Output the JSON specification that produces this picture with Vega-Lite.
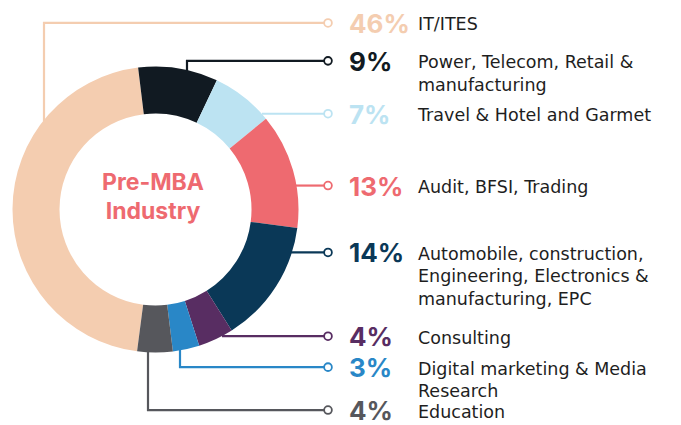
{
  "$schema": "https://vega.github.io/schema/vega-lite/v6.json",
  "width": 681,
  "height": 425,
  "padding": 0,
  "autosize": {"type": "fit", "contains": "padding"},
  "background": "white",
  "config": {"view": {"stroke": null}, "font": "Inter"},
  "datasets": {
    "shares": [
      {"key": "IT", "pct": 46, "ord": 8, "label": "IT/ITES"},
      {"key": "Power", "pct": 9, "ord": 1, "label": "Power, Telecom, Retail &\nmanufacturing"},
      {"key": "Travel", "pct": 7, "ord": 2, "label": "Travel & Hotel and Garmet"},
      {"key": "Audit", "pct": 13, "ord": 3, "label": "Audit, BFSI, Trading"},
      {"key": "Auto", "pct": 14, "ord": 4, "label": "Automobile, construction,\nEngineering, Electronics &\nmanufacturing, EPC"},
      {"key": "Consulting", "pct": 4, "ord": 5, "label": "Consulting"},
      {"key": "Digital", "pct": 3, "ord": 6, "label": "Digital marketing & Media\nResearch"},
      {"key": "Education", "pct": 4, "ord": 7, "label": "Education"}
    ],
    "labelSlots": [
      {"key": "IT", "ly": 23},
      {"key": "Power", "ly": 61},
      {"key": "Travel", "ly": 114},
      {"key": "Audit", "ly": 186},
      {"key": "Auto", "ly": 253},
      {"key": "Consulting", "ly": 337},
      {"key": "Digital", "ly": 368},
      {"key": "Education", "ly": 411}
    ],
    "leaders": [
      {"key": "IT", "step": 0, "lx": 44, "ly": 122},
      {"key": "IT", "step": 1, "lx": 44, "ly": 23},
      {"key": "IT", "step": 2, "lx": 328, "ly": 23},
      {"key": "Power", "step": 0, "lx": 187, "ly": 84},
      {"key": "Power", "step": 1, "lx": 187, "ly": 61},
      {"key": "Power", "step": 2, "lx": 328, "ly": 61},
      {"key": "Travel", "step": 0, "lx": 262, "ly": 114},
      {"key": "Travel", "step": 1, "lx": 328, "ly": 114},
      {"key": "Audit", "step": 0, "lx": 296, "ly": 186},
      {"key": "Audit", "step": 1, "lx": 328, "ly": 186},
      {"key": "Auto", "step": 0, "lx": 291, "ly": 253},
      {"key": "Auto", "step": 1, "lx": 328, "ly": 253},
      {"key": "Consulting", "step": 0, "lx": 222, "ly": 337},
      {"key": "Consulting", "step": 1, "lx": 328, "ly": 337},
      {"key": "Digital", "step": 0, "lx": 180, "ly": 350},
      {"key": "Digital", "step": 1, "lx": 180, "ly": 368},
      {"key": "Digital", "step": 2, "lx": 328, "ly": 368},
      {"key": "Education", "step": 0, "lx": 148, "ly": 350},
      {"key": "Education", "step": 1, "lx": 148, "ly": 411},
      {"key": "Education", "step": 2, "lx": 328, "ly": 411}
    ]
  },
  "layer": [
    {
      "data": {"name": "leaders"},
      "mark": {"type": "line", "strokeWidth": 2.2, "interpolate": "linear"},
      "encoding": {
        "x": {"field": "lx", "type": "quantitative", "scale": {"domain": [0, 681], "nice": false, "zero": false}, "axis": null},
        "y": {"field": "ly", "type": "quantitative", "scale": {"domain": [0, 425], "nice": false, "zero": false, "reverse": true}, "axis": null},
        "order": {"field": "step"},
        "detail": {"field": "key"},
        "color": {"field": "key", "type": "nominal", "legend": null,
          "scale": {"domain": ["IT", "Power", "Travel", "Audit", "Auto", "Consulting", "Digital", "Education"],
                    "range": ["#F4CDB0", "#111A22", "#BCE3F2", "#EE6A70", "#0A3857", "#582D62", "#2987C7", "#56575C"]}}
      }
    },
    {
      "data": {"name": "shares"},
      "transform": [
        {"stack": "pct", "groupby": [], "sort": [{"field": "ord"}], "as": ["t0", "t1"]}
      ],
      "mark": {"type": "arc", "innerRadius": 96, "outerRadius": 143},
      "encoding": {
        "x": {"datum": 155.5, "type": "quantitative"},
        "y": {"datum": 210, "type": "quantitative"},
        "theta": {"field": "t0", "type": "quantitative", "scale": {"domain": [0, 100], "range": [-0.122, 6.161]}},
        "theta2": {"field": "t1"},
        "color": {"field": "key", "type": "nominal", "legend": null}
      }
    },
    {
      "data": {"values": [{"title": "Pre-MBA\nIndustry"}]},
      "mark": {"type": "text", "font": "Inter", "fontWeight": "bold", "fontSize": 23, "color": "#EE6A70", "align": "center", "baseline": "top", "lineBreak": "\n", "lineHeight": 29, "dy": -9},
      "encoding": {
        "x": {"datum": 153, "type": "quantitative"},
        "y": {"datum": 181, "type": "quantitative"},
        "text": {"field": "title"}
      }
    },
    {
      "data": {"name": "shares"},
      "transform": [
        {"lookup": "key", "from": {"data": {"name": "labelSlots"}, "key": "key", "fields": ["ly"]}}
      ],
      "mark": {"type": "point", "filled": true, "fill": "white", "size": 60, "strokeWidth": 1.8, "shape": "circle", "opacity": 1},
      "encoding": {
        "x": {"datum": 328, "type": "quantitative"},
        "y": {"field": "ly", "type": "quantitative"},
        "stroke": {"field": "key", "type": "nominal", "legend": null,
          "scale": {"domain": ["IT", "Power", "Travel", "Audit", "Auto", "Consulting", "Digital", "Education"],
                    "range": ["#F4CDB0", "#111A22", "#BCE3F2", "#EE6A70", "#0A3857", "#582D62", "#2987C7", "#56575C"]}}
      }
    },
    {
      "data": {"name": "shares"},
      "transform": [
        {"lookup": "key", "from": {"data": {"name": "labelSlots"}, "key": "key", "fields": ["ly"]}},
        {"calculate": "datum.pct + '%'", "as": "pctText"}
      ],
      "mark": {"type": "text", "font": "Inter", "fontWeight": "bold", "fontSize": 26, "align": "left", "baseline": "middle", "dy": 2},
      "encoding": {
        "x": {"datum": 349, "type": "quantitative"},
        "y": {"field": "ly", "type": "quantitative"},
        "text": {"field": "pctText"},
        "color": {"field": "key", "type": "nominal", "legend": null}
      }
    },
    {
      "data": {"name": "shares"},
      "transform": [
        {"lookup": "key", "from": {"data": {"name": "labelSlots"}, "key": "key", "fields": ["ly"]}}
      ],
      "mark": {"type": "text", "font": "DejaVu Sans", "fontSize": 17.5, "align": "left", "baseline": "top", "lineBreak": "\n", "lineHeight": 22.5, "dy": -6.5, "color": "#1E1E1E"},
      "encoding": {
        "x": {"datum": 418, "type": "quantitative"},
        "y": {"field": "ly", "type": "quantitative"},
        "text": {"field": "label"}
      }
    }
  ]
}
